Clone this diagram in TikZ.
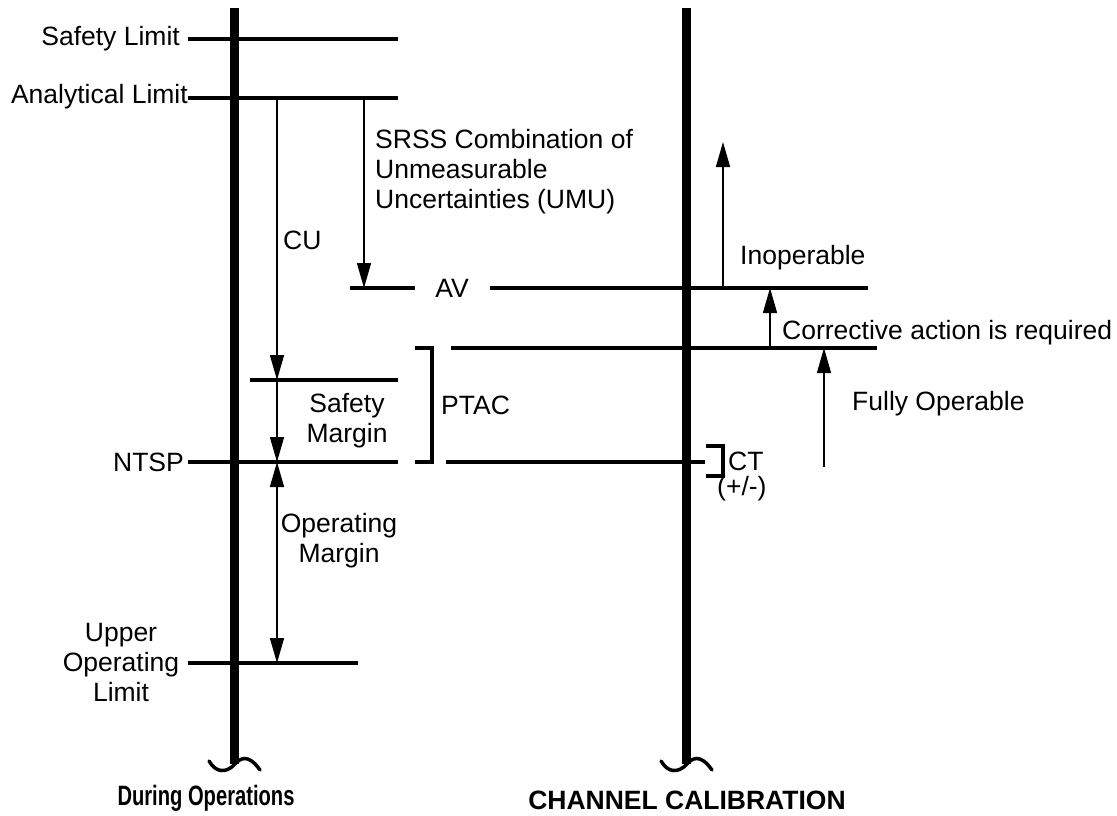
\documentclass[tikz,border=0pt]{standalone}
\usepackage{fontspec}
\setmainfont{Liberation Sans}
\usetikzlibrary{positioning, arrows.meta}

\begin{document}
\begin{tikzpicture}[
    x=1pt, y=-1pt,
    % Styles
    rail/.style={line width=9pt},
    limit/.style={line width=4pt},
    wave/.style={line width=3.5pt, line cap=round},
    dimarrow/.style={line width=1.5pt, -{Triangle[width=14pt,length=25pt]}},
    twoway/.style={line width=1.5pt, {Triangle[width=14pt,length=25pt]}-{Triangle[width=14pt,length=25pt]}},
    lbl/.style={font=\fontsize{26.5}{30}\selectfont, inner sep=0pt},
    title/.style={font=\fontsize{26.5}{30}\selectfont\bfseries, inner sep=0pt},
]
\useasboundingbox (0,0) rectangle (1117,815);

% Rails with broken ends
\draw[rail] (234,8) -- (234,764);
\draw[rail] (686,8) -- (686,764);
\draw[wave] (209,761) .. controls (216,773) and (226,773) .. (234,765) .. controls (240,758) and (248,753) .. (260,770);
\draw[wave] (661,761) .. controls (668,773) and (678,773) .. (686,765) .. controls (692,758) and (700,753) .. (712,770);

% LEFT SIDE: During Operations
\node[lbl, anchor=east] (sl) at (180,39) {Safety Limit};
\draw[limit] (188,39) -- (398,39);

\node[lbl, anchor=east] (al) at (188,97) {Analytical Limit};
\draw[limit] (al.east |- 0,98) -- (398,98);

\node[lbl, align=left, anchor=west] (srss) at (375,172) {SRSS Combination of\\Unmeasurable\\Uncertainties (UMU)};
\node[lbl, anchor=west] (cu) at (283,240) {CU};

% AV line
\node[lbl] (av) at (452,288) {AV};
\draw[limit] (350,288) -- (415,288);
\draw[limit] (490,288) -- (868,288);

% Corrective action line
\draw[limit] (451,348) -- (877,348);

% Safety margin line
\draw[limit] (250,380) -- (398,380);
\node[lbl, align=center] (sm) at (347,421) {Safety\\Margin};

% PTAC bracket
\draw[limit] (415,348) -- (432,348) -- (432,462) -- (415,462);
\node[lbl, anchor=west] (ptac) at (441,405) {PTAC};

% NTSP line
\node[lbl, anchor=east] (ntsp) at (184,462) {NTSP};
\draw[limit] (188,462) -- (398,462);
\draw[limit] (446,462) -- (705,462);

% CT bracket
\draw[limit] (706,446) -- (723,446) -- (723,476) -- (706,476);
\node[lbl, anchor=west] (ct) at (728,461) {CT};
\node[lbl, anchor=west] (pm) at (717,489) {(+/-)};

\node[lbl, align=center] (om) at (339,541) {Operating\\Margin};

% Upper operating limit
\node[lbl, align=center] (uol) at (121,662) {Upper\\Operating\\Limit};
\draw[limit] (188,663) -- (358,663);

% Arrows on the left
\coordinate (cu-top) at (277,98);
\coordinate (cu-bot) at (277,380);
\coordinate (ntsp-cu) at (277,462);
\coordinate (uol-cu) at (277,663);
\coordinate (srss-top) at (364,98);
\coordinate (srss-bot) at (364,288);
\draw[dimarrow] (cu-top) -- (cu-bot);
\draw[dimarrow] (cu-bot) -- (ntsp-cu);
\draw[twoway] (ntsp-cu) -- (uol-cu);
\draw[dimarrow] (srss-top) -- (srss-bot);

% RIGHT SIDE: Channel calibration
\node[lbl, anchor=west] (inop) at (740,258) {Inoperable};
\node[lbl, anchor=west] (corr) at (782,333) {Corrective action is required};
\node[lbl, anchor=west] (fop) at (852,404) {Fully Operable};

\coordinate (inop-bot) at (723,288);
\coordinate (inop-top) at (723,142);
\coordinate (corr-bot) at (770,348);
\coordinate (corr-top) at (770,288);
\coordinate (fop-bot) at (824,467);
\coordinate (fop-top) at (824,348);
\draw[dimarrow] (inop-bot) -- (inop-top);
\draw[dimarrow] (corr-bot) -- (corr-top);
\draw[dimarrow] (fop-bot) -- (fop-top);

% Titles
\node[title, font=\fontsize{28}{30}\selectfont\bfseries] (ops) at (206,798) {\scalebox{0.72}[1]{During Operations}};
\node[title] (cal) at (687,800) {CHANNEL CALIBRATION};

\end{tikzpicture}
\end{document}
